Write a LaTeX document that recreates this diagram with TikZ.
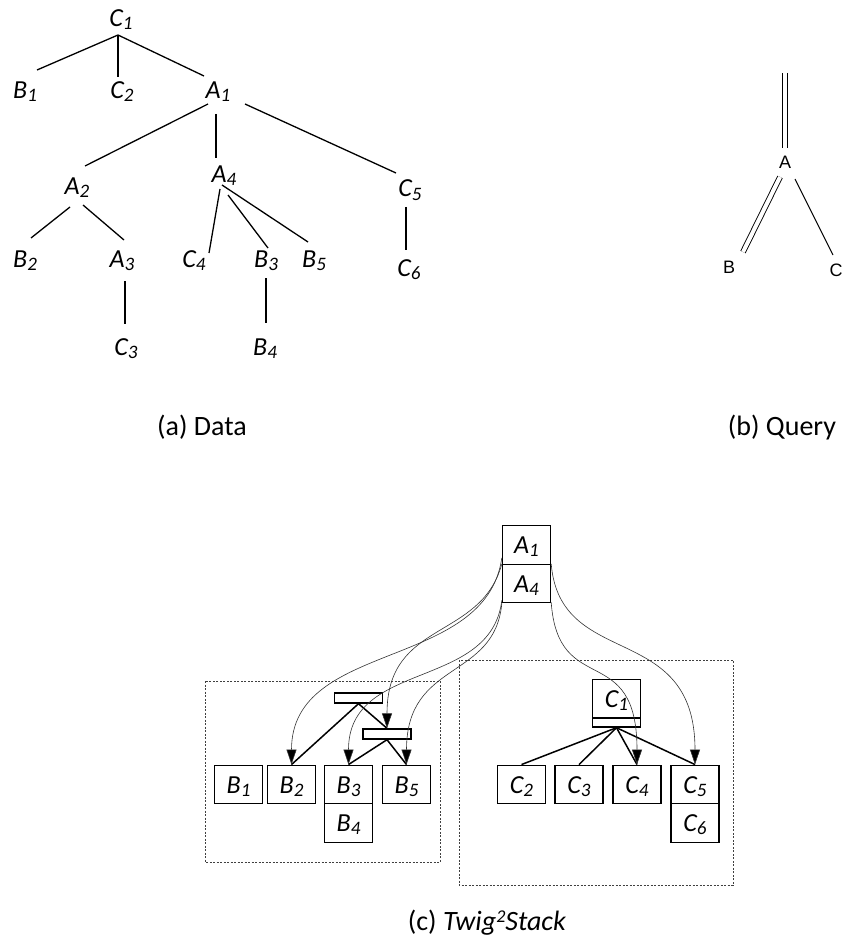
\documentclass[tikz,border=0pt]{standalone}
\usepackage{fontspec}
\setmainfont{Carlito}
\newfontfamily\qfont{Liberation Sans}
\usetikzlibrary{arrows.meta}

% letter with a lowered index, as used for every tree / stack label
\newcommand\lab[2]{#1\raisebox{-3pt}{\fontsize{19}{19}\selectfont #2}}

\begin{document}
\begin{tikzpicture}[x=1pt,y=-1pt,
  tlab/.style={font=\fontsize{26}{26}\selectfont\itshape, inner sep=0pt, anchor=base},
  tedge/.style={line width=1.3pt},
  qlab/.style={font=\qfont\fontsize{18}{18}\selectfont, inner sep=0pt, anchor=base},
  qedge/.style={line width=1pt},
  qdouble/.style={line width=0.9pt, double, double distance=4pt},
  caption/.style={font=\fontsize{28}{28}\selectfont, inner sep=0pt, anchor=base},
  stackbox/.style={draw, line width=1.4pt, minimum width=48pt, minimum height=38.5pt,
    inner sep=0pt, text height=17pt, text depth=0pt,
    font=\fontsize{26}{26}\selectfont\itshape},
  bar/.style={draw, line width=1.4pt, minimum width=48pt, minimum height=10pt, inner sep=0pt},
  link/.style={line width=1.5pt},
  ptr/.style={line width=0.6pt, draw=black!80, -{Triangle[length=15pt,width=10pt,fill=black]}},
  region/.style={draw=black!75, line width=0.8pt, dash pattern=on 2pt off 1.5pt}]

\useasboundingbox (0,0) rectangle (844,941);

% ---------------- (a) data tree ----------------
\node[tlab] (c1) at (121,27)  {\lab{C}{1}};
\node[tlab] (b1) at (25,99)   {\lab{B}{1}};
\node[tlab] (c2) at (122,99)  {\lab{C}{2}};
\node[tlab] (a1) at (218,99)  {\lab{A}{1}};
\node[tlab] (a2) at (77,195)  {\lab{A}{2}};
\node[tlab] (a4) at (224,183) {\lab{A}{4}};
\node[tlab] (c5) at (410,197) {\lab{C}{5}};
\node[tlab] (b2) at (25,267)  {\lab{B}{2}};
\node[tlab] (a3) at (122,267) {\lab{A}{3}};
\node[tlab] (c4) at (194,267) {\lab{C}{4}};
\node[tlab] (b3) at (266,267) {\lab{B}{3}};
\node[tlab] (b5) at (314,267) {\lab{B}{5}};
\node[tlab] (c6) at (409,276) {\lab{C}{6}};
\node[tlab] (c3) at (126,355) {\lab{C}{3}};
\node[tlab] (b4) at (265,355) {\lab{B}{4}};

\draw[tedge] ([shift={(-3,8)}]c1.base) -- ([shift={(12,-29)}]b1.base);
\draw[tedge] ([shift={(-3,8)}]c1.base) -- ([shift={(-4,-22)}]c2.base);
\draw[tedge] ([shift={(-3,8)}]c1.base) -- ([shift={(-14,-23)}]a1.base);
\draw[tedge] ([shift={(-10,5)}]a1.base) -- ([shift={(8,-29)}]a2.base);
\draw[tedge] ([shift={(-2,15)}]a1.base) -- ([shift={(-8,-25)}]a4.base);
\draw[tedge] ([shift={(27,5)}]a1.base) -- ([shift={(-14,-24)}]c5.base);
\draw[tedge] ([shift={(-7,12)}]a2.base) -- ([shift={(6,-29)}]b2.base);
\draw[tedge] ([shift={(6,10)}]a2.base) -- ([shift={(2,-27)}]a3.base);
\draw[tedge] ([shift={(-4,6)}]a4.base) -- ([shift={(15,-14)}]c4.base);
\draw[tedge] ([shift={(4,12)}]a4.base) -- ([shift={(2,-19)}]b3.base);
\draw[tedge] ([shift={(-2,2)}]a4.base) -- ([shift={(-6,-25)}]b5.base);
\draw[tedge] ([shift={(-4,10)}]c5.base) -- ([shift={(-3,-26)}]c6.base);
\draw[tedge] ([shift={(3,14)}]a3.base) -- ([shift={(-1,-31)}]c3.base);
\draw[tedge] ([shift={(0,11)}]b3.base) -- ([shift={(1,-32)}]b4.base);

\node[caption] (capa) at (202,435) {(a) Data};

% ---------------- (b) query ----------------
\coordinate (qtop) at (785,73);
\node[qlab] (qa) at (785,169) {A};
\node[qlab] (qb) at (729,273) {B};
\node[qlab] (qc) at (836,276) {C};

\draw[qdouble] (qtop) -- ([shift={(0,-21)}]qa.base);
\draw[qdouble] ([shift={(-5,8)}]qa.base) -- ([shift={(14,-21)}]qb.base);
\draw[qedge] ([shift={(10,10)}]qa.base) -- ([shift={(-3,-21)}]qc.base);

\node[caption] (capb) at (782,435) {(b) Query};

% ---------------- (c) Twig2Stack ----------------
\draw[region] (205,681) rectangle (440,862);
\draw[region] (459,660) rectangle (733,885);

\node[stackbox] (sa1) at (526.5,545)   {\lab{A}{1}};
\node[stackbox] (sa4) at (526.5,583.5) {\lab{A}{4}};

\node[bar] (bup) at (358.5,698) {};
\node[bar] (blo) at (387,734)   {};

\node[stackbox] (sb1) at (238.5,784.5) {\lab{B}{1}};
\node[stackbox] (sb2) at (291.5,784.5) {\lab{B}{2}};
\node[stackbox] (sb3) at (348.5,784.5) {\lab{B}{3}};
\node[stackbox] (sb5) at (406.5,784.5) {\lab{B}{5}};
\node[stackbox] (sb4) at (348.5,823)   {\lab{B}{4}};

\node[stackbox] (sc1) at (616.5,698.5) {\lab{C}{1}};
\node[bar, minimum height=9pt] (bc1) at (616.5,722.5) {};

\node[stackbox] (sc2) at (521.5,784.5) {\lab{C}{2}};
\node[stackbox] (sc3) at (579,784.5)   {\lab{C}{3}};
\node[stackbox] (sc4) at (637,784.5)   {\lab{C}{4}};
\node[stackbox] (sc5) at (695,784.5)   {\lab{C}{5}};
\node[stackbox] (sc6) at (695,823)     {\lab{C}{6}};

\draw[link] (bup.south) -- (sb2.north);
\draw[link] (bup.south) -- (blo.north);
\draw[link] (blo.south) -- (sb3.north);
\draw[link] (blo.south) -- (sb5.north);
\draw[link] (bc1.south) -- (sc2.north);
\draw[link] (bc1.south) -- (sc3.north);
\draw[link] (bc1.south) -- (sc4.north);
\draw[link] (bc1.south) -- (sc5.north);

\draw[ptr] ([shift={(0,-7)}]sa1.south west) .. controls +(-16,113) and +(0,-125) .. (sb2.north);
\draw[ptr] ([shift={(0,-1)}]sa1.south west) .. controls +(-21,77) and +(0,-109) .. (blo.north);
\draw[ptr] ([shift={(0,-3)}]sa4.south west) .. controls +(-11,90) and +(0,-105) .. (sb3.north);
\draw[ptr] (sa4.south west) .. controls +(-7,77) and +(0,-105) .. (sb5.north);
\draw[ptr] ([shift={(0,-1)}]sa1.south east) .. controls +(9,107) and +(0,-145) .. (sc5.north);
\draw[ptr] ([shift={(0,-1)}]sa4.south east) .. controls +(7,97) and +(0,-125) .. (sc4.north);

\node[caption] (capc) at (487,930)
  {(c) \textit{Twig\raisebox{8pt}{\fontsize{18}{18}\selectfont 2}Stack}};

\end{tikzpicture}
\end{document}
